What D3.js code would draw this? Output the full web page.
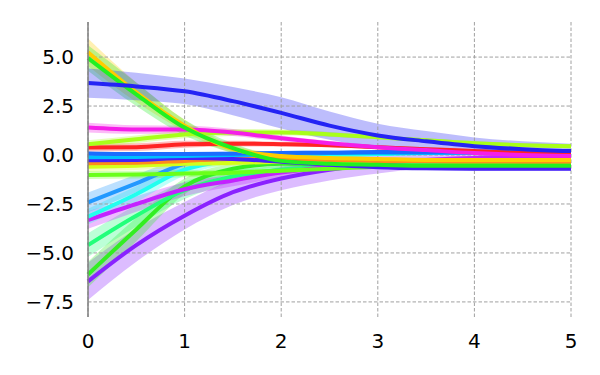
<!DOCTYPE html>
<html>
<head>
<meta charset="utf-8">
<script src="https://cdn.jsdelivr.net/npm/d3@7"></script>
<style>
  body { margin: 0; background: #fff; }
  svg { display: block; font-family: "DejaVu Sans", sans-serif; }
</style>
</head>
<body>
<div id="chart"></div>
<script>
// sample positions along the x axis
var xs = [0, 0.5, 1, 1.5, 2, 2.5, 3, 3.5, 4, 4.5, 5];

// series means
var gold       = [5.25, 3.2, 1.5, 0.3, -0.05, -0.15, -0.2, -0.25, -0.25, -0.25, -0.25];
var green      = [4.95, 3.1, 1.4, 0.35, -0.3, -0.45, -0.5, -0.55, -0.55, -0.55, -0.55];
var blue       = [3.67, 3.5, 3.25, 2.75, 2.15, 1.5, 1.0, 0.7, 0.45, 0.3, 0.2];
var magenta    = [1.4, 1.3, 1.3, 1.15, 0.85, 0.6, 0.4, 0.25, 0.1, 0.0, -0.05];
var chartreuse = [0.55, 0.8, 1.05, 1.15, 1.15, 1.05, 0.9, 0.75, 0.6, 0.5, 0.45];
var red        = [0.38, 0.4, 0.55, 0.58, 0.55, 0.5, 0.4, 0.3, 0.2, 0.1, 0.05];
var royal      = [0.08, 0.05, 0.05, 0.07, 0.1, 0.12, 0.15, 0.15, 0.17, 0.18, 0.2];
var azure      = [-0.12, -0.1, -0.05, 0.0, 0.05, 0.1, 0.1, 0.12, 0.15, 0.15, 0.15];
var indigo     = [-0.27, -0.25, -0.15, -0.2, -0.35, -0.5, -0.62, -0.68, -0.7, -0.7, -0.7];
var orange     = [-0.42, -0.4, -0.3, -0.2, -0.2, -0.25, -0.3, -0.32, -0.33, -0.34, -0.35];
var lime       = [-0.6, -0.55, -0.45, -0.4, -0.35, -0.3, -0.3, -0.3, -0.3, -0.3, -0.3];
var leaf       = [-1.02, -1.0, -0.95, -0.9, -0.8, -0.7, -0.6, -0.55, -0.5, -0.5, -0.5];
var dodger     = [-2.42, -1.45, -0.45, -0.1, 0.05, 0.1, 0.1, 0.1, 0.1, 0.1, 0.1];
var cyan       = [-3.15, -2.0, -0.75, -0.25, -0.05, 0.0, 0.05, 0.1, 0.1, 0.12, 0.15];
var violet     = [-3.32, -2.5, -1.75, -1.3, -0.9, -0.6, -0.4, -0.25, -0.15, -0.1, -0.05];
var spring     = [-4.6, -3.1, -1.8, -1.1, -0.75, -0.6, -0.5, -0.45, -0.4, -0.4, -0.4];
var grass      = [-6.1, -3.8, -1.6, -0.7, -0.45, -0.45, -0.5, -0.5, -0.5, -0.5, -0.5];
var purple     = [-6.45, -4.6, -3.1, -1.9, -1.2, -0.75, -0.45, -0.3, -0.2, -0.12, -0.08];

// band half-widths for each series
var goldBand       = [0.7, 0.5, 0.3, 0.2, 0.15, 0.12, 0.1, 0.1, 0.1, 0.1, 0.1];
var greenBand      = [0.65, 0.6, 0.4, 0.25, 0.2, 0.15, 0.12, 0.1, 0.1, 0.1, 0.1];
var blueBand       = [0.75, 0.7, 0.65, 0.72, 0.8, 0.72, 0.6, 0.52, 0.45, 0.4, 0.38];
var magentaBand    = [0.25, 0.22, 0.2, 0.18, 0.15, 0.12, 0.1, 0.1, 0.1, 0.1, 0.1];
var chartreuseBand = [0.2, 0.2, 0.2, 0.18, 0.15, 0.12, 0.1, 0.1, 0.1, 0.1, 0.1];
var redBand        = [0.2, 0.2, 0.18, 0.15, 0.12, 0.1, 0.1, 0.1, 0.1, 0.1, 0.1];
var royalBand      = [0.1, 0.1, 0.1, 0.1, 0.1, 0.1, 0.1, 0.1, 0.1, 0.1, 0.1];
var azureBand      = [0.1, 0.1, 0.1, 0.1, 0.1, 0.1, 0.1, 0.1, 0.1, 0.1, 0.1];
var indigoBand     = [0.1, 0.1, 0.1, 0.1, 0.1, 0.1, 0.1, 0.1, 0.1, 0.1, 0.1];
var orangeBand     = [0.15, 0.15, 0.12, 0.1, 0.1, 0.1, 0.1, 0.1, 0.1, 0.1, 0.1];
var limeBand       = [0.25, 0.22, 0.2, 0.15, 0.12, 0.1, 0.1, 0.1, 0.1, 0.1, 0.1];
var leafBand       = [0.2, 0.2, 0.18, 0.15, 0.12, 0.1, 0.1, 0.1, 0.1, 0.1, 0.1];
var dodgerBand     = [0.5, 0.45, 0.3, 0.2, 0.15, 0.12, 0.1, 0.1, 0.1, 0.1, 0.1];
var cyanBand       = [0.4, 0.4, 0.3, 0.2, 0.15, 0.12, 0.1, 0.1, 0.1, 0.1, 0.1];
var violetBand     = [0.45, 0.4, 0.35, 0.3, 0.25, 0.2, 0.15, 0.12, 0.1, 0.1, 0.1];
var springBand     = [0.6, 0.55, 0.45, 0.3, 0.2, 0.15, 0.12, 0.1, 0.1, 0.1, 0.1];
var grassBand      = [0.65, 0.6, 0.4, 0.25, 0.2, 0.15, 0.12, 0.1, 0.1, 0.1, 0.1];
var purpleBand     = [0.95, 0.85, 0.7, 0.65, 0.6, 0.55, 0.5, 0.35, 0.25, 0.18, 0.15];

var xTicks = [0, 1, 2, 3, 4, 5];
var yTicks = [-7.5, -5.0, -2.5, 0.0, 2.5, 5.0];

var series = [
  {color: "#8a22ff", mean: purple,     band: purpleBand},
  {color: "#33ee22", mean: grass,      band: grassBand},
  {color: "#22ff7a", mean: spring,     band: springBand},
  {color: "#c422ff", mean: violet,     band: violetBand},
  {color: "#22ffee", mean: cyan,       band: cyanBand},
  {color: "#2299ff", mean: dodger,     band: dodgerBand},
  {color: "#6aff1a", mean: leaf,       band: leafBand},
  {color: "#d4ff1a", mean: lime,       band: limeBand},
  {color: "#ff8c1a", mean: orange,     band: orangeBand},
  {color: "#4422f8", mean: indigo,     band: indigoBand},
  {color: "#00c0ff", mean: azure,      band: azureBand},
  {color: "#1a6dff", mean: royal,      band: royalBand},
  {color: "#ff2424", mean: red,        band: redBand},
  {color: "#a8ff1a", mean: chartreuse, band: chartreuseBand},
  {color: "#f51ee8", mean: magenta,    band: magentaBand},
  {color: "#ffcc00", mean: gold,       band: goldBand},
  {color: "#22f022", mean: green,      band: greenBand},
  {color: "#2424f4", mean: blue,       band: blueBand}
];

var margin = {top: 22, right: 29, bottom: 58, left: 88},
    width = 600 - margin.left - margin.right,
    height = 375 - margin.top - margin.bottom;

var x = d3.scaleLinear().domain([0, 5]).range([0, width]);
var y = d3.scaleLinear().domain([-8.27, 6.79]).range([height, 0]);

var svg = d3.select("#chart").append("svg")
    .attr("width", width + margin.left + margin.right)
    .attr("height", height + margin.top + margin.bottom)
  .append("g")
    .attr("transform", "translate(" + margin.left + "," + margin.top + ")");

var area = d3.area()
    .x(function(d) { return x(d.x); })
    .y0(function(d) { return y(d.m - d.b); })
    .y1(function(d) { return y(d.m + d.b); })
    .curve(d3.curveMonotoneX);

var line = d3.line()
    .x(function(d) { return x(d.x); })
    .y(function(d) { return y(d.m); })
    .curve(d3.curveMonotoneX);

function points(s) {
  return xs.map(function(v, i) { return {x: v, m: s.mean[i], b: s.band[i]}; });
}

// shaded bands
svg.append("g").selectAll("path")
    .data(series)
    .enter().append("path")
    .attr("d", function(s) { return area(points(s)); })
    .attr("fill", function(s) { return s.color; })
    .attr("fill-opacity", 0.3)
    .attr("stroke", "none");

// grid
svg.append("g").selectAll("line")
    .data(yTicks)
    .enter().append("line")
    .attr("x1", 0).attr("x2", width)
    .attr("y1", function(d) { return y(d); })
    .attr("y2", function(d) { return y(d); })
    .attr("stroke", "#a0a0a0")
    .attr("stroke-width", 1)
    .attr("stroke-dasharray", "3.5,2");

svg.append("g").selectAll("line")
    .data(xTicks)
    .enter().append("line")
    .attr("x1", function(d) { return x(d); })
    .attr("x2", function(d) { return x(d); })
    .attr("y1", 0).attr("y2", height)
    .attr("stroke", "#a0a0a0")
    .attr("stroke-width", 1)
    .attr("stroke-dasharray", "3.5,2");

// mean lines
svg.append("g").selectAll("path")
    .data(series)
    .enter().append("path")
    .attr("d", function(s) { return line(points(s)); })
    .attr("fill", "none")
    .attr("stroke", function(s) { return s.color; })
    .attr("stroke-width", 4);

// left spine
svg.append("line")
    .attr("x1", 0).attr("x2", 0)
    .attr("y1", 0).attr("y2", height)
    .attr("stroke", "#808080")
    .attr("stroke-width", 1.5);

// tick labels
var fmt = function(d) { return d3.format(".1f")(d).replace("-", "\u2212"); };

svg.append("g").selectAll("text")
    .data(yTicks)
    .enter().append("text")
    .attr("x", -14)
    .attr("y", function(d) { return y(d); })
    .attr("dy", "0.36em")
    .attr("text-anchor", "end")
    .attr("font-size", "20px")
    .attr("fill", "#000")
    .text(fmt);

svg.append("g").selectAll("text")
    .data(xTicks)
    .enter().append("text")
    .attr("x", function(d) { return x(d); })
    .attr("y", height + 31)
    .attr("text-anchor", "middle")
    .attr("font-size", "20px")
    .attr("fill", "#000")
    .text(function(d) { return d; });
</script>
</body>
</html>
